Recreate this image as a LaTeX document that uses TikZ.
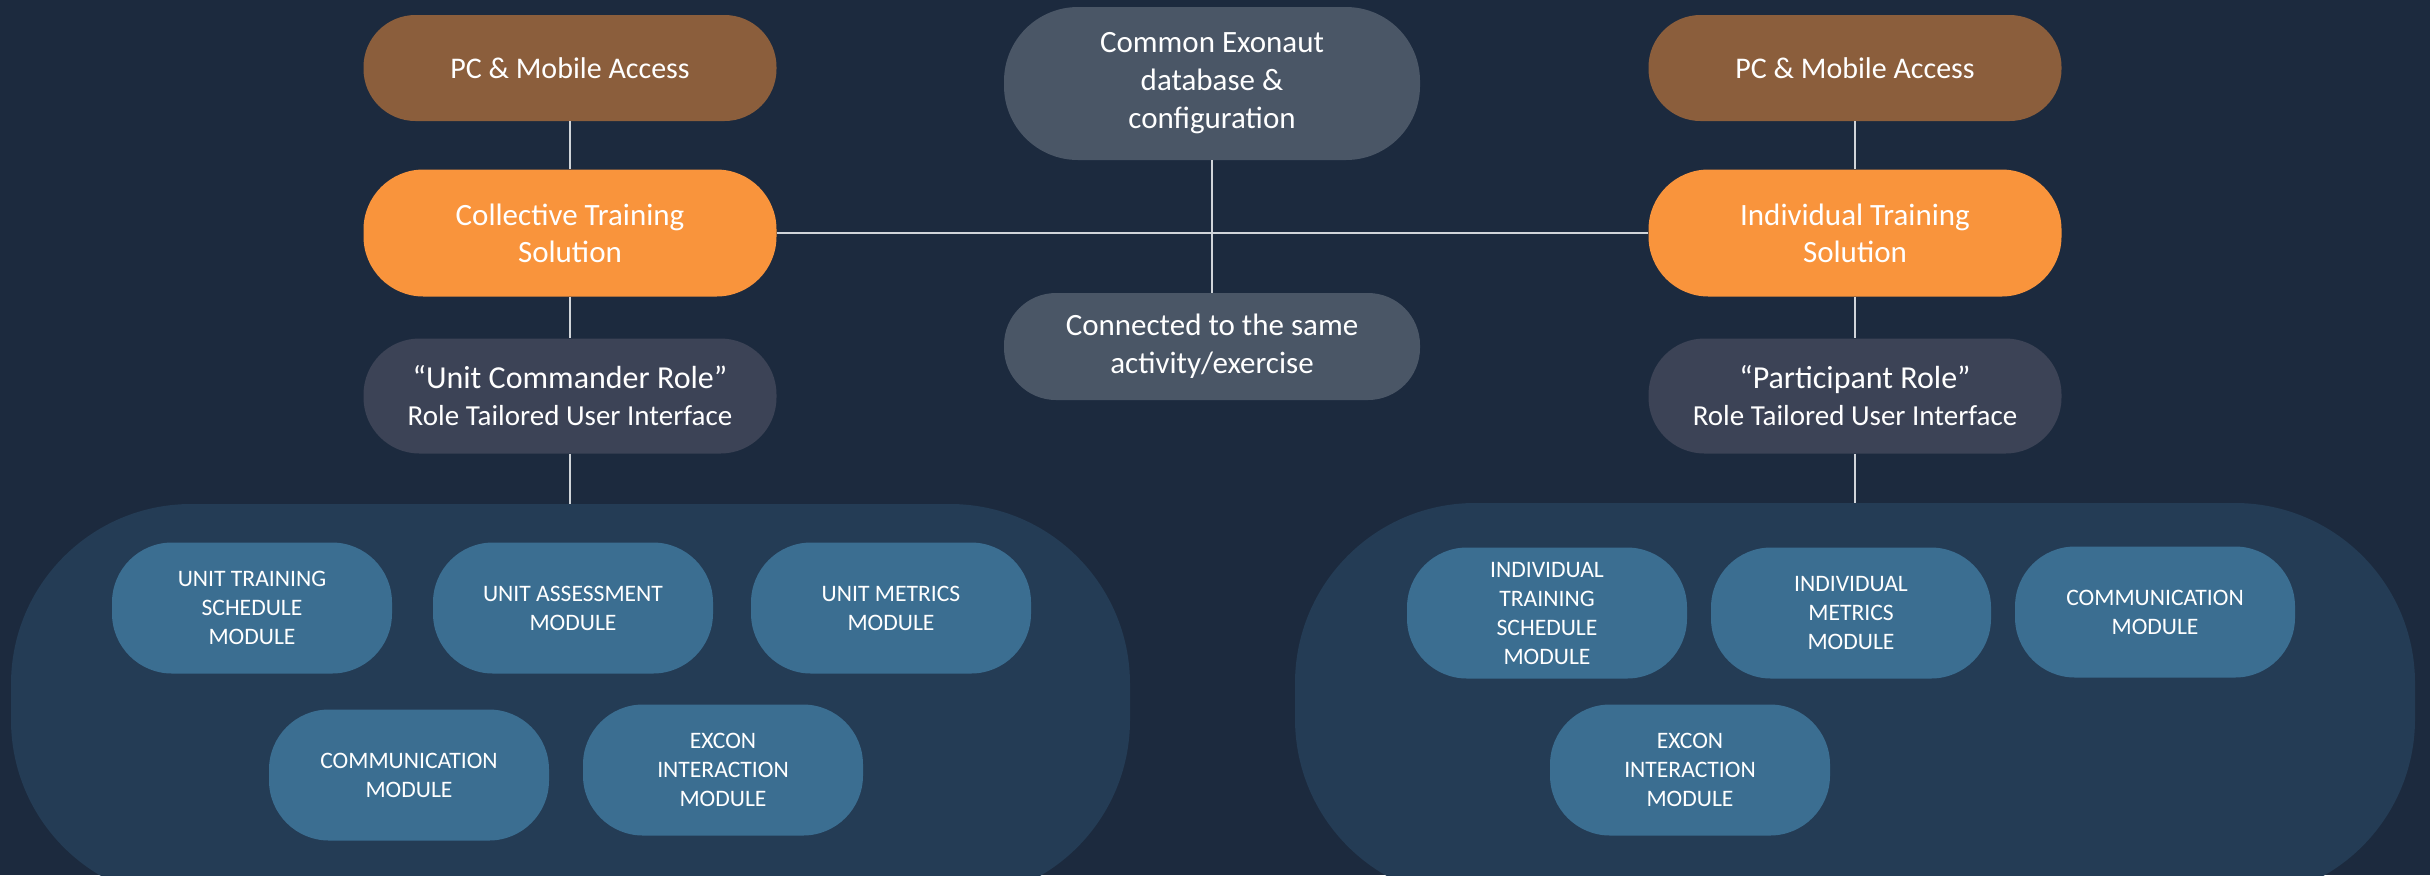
\documentclass[tikz,border=0pt]{standalone}
\usepackage{fontspec}
\setmainfont{Carlito}
\definecolor{bgc}{HTML}{1C2A3E}
\definecolor{brownc}{HTML}{8B5E3C}
\definecolor{orangec}{HTML}{F9943C}
\definecolor{rolec}{HTML}{3C4356}
\definecolor{centerc}{HTML}{4A5666}
\definecolor{contc}{HTML}{243C55}
\definecolor{modc}{HTML}{3B6E91}
\definecolor{linec}{HTML}{D0D4D9}
\tikzset{
  basebox/.style={align=center, text=white, inner sep=0pt, minimum width=206.5pt},
  accessbox/.style={basebox, fill=brownc, minimum height=53pt, rounded corners=26pt, font=\fontsize{15}{18.5}\selectfont},
  solbox/.style={basebox, fill=orangec, minimum height=63.5pt, rounded corners=30pt, font=\fontsize{15.5}{18.5}\selectfont},
  rolebox/.style={basebox, fill=rolec, minimum height=57.5pt, rounded corners=28pt, font=\fontsize{16}{18.5}\selectfont},
  centerbox/.style={basebox, fill=centerc, minimum width=208pt, rounded corners=26pt, font=\fontsize{15.5}{19}\selectfont},
  contbox/.style={fill=contc, rounded corners=90pt, minimum height=198pt, inner sep=0pt},
  modbox/.style={fill=modc, align=center, text=white, inner sep=0pt, minimum width=140pt, minimum height=65.5pt, rounded corners=30pt, font=\fontsize{11.8}{14.5}\selectfont},
  conn/.style={draw=linec, line width=0.8pt}
}
\begin{document}
\begin{tikzpicture}[x=0.5pt, y=-0.5pt]
\fill[bgc] (0,0) rectangle (2430,875);
\useasboundingbox (0,0) rectangle (2430,875);
\clip (0,0) rectangle (2430,875);

% containers
\node[contbox, minimum width=559.5pt] (contL) at (570.5,702) {};
\node[contbox, minimum width=560pt] (contR) at (1855,701) {};

% left column
\node[accessbox] (pcL) at (570,68) {PC \& Mobile Access};
\node[solbox] (colL) at (570,233) {Collective Training\\Solution};
\node[rolebox] (roleL) at (570,396) {“Unit Commander Role”\\{\fontsize{14.5}{18.5}\selectfont Role Tailored User Interface}};

% right column
\node[accessbox] (pcR) at (1855,68) {PC \& Mobile Access};
\node[solbox] (indR) at (1855,233) {Individual Training\\Solution};
\node[rolebox] (roleR) at (1855,396) {“Participant Role”\\{\fontsize{14.5}{18.5}\selectfont Role Tailored User Interface}};

% center
\node[centerbox, minimum height=76.5pt, rounded corners=37pt] (common) at (1212,83.5) {Common Exonaut\\database \&\\configuration};
\node[centerbox, minimum height=53.5pt] (connected) at (1212,346.5) {Connected to the same\\activity/exercise};

% connectors
\draw[conn] (pcL) -- (colL);
\draw[conn] (colL) -- (roleL);
\draw[conn] (roleL.south) -- (roleL.south |- contL.north);
\draw[conn] (pcR) -- (indR);
\draw[conn] (indR) -- (roleR);
\draw[conn] (roleR.south) -- (roleR.south |- contR.north);
\draw[conn] (colL.east) -- (indR.west);
\draw[conn] (common) -- (connected);

% left modules
\node[modbox] (m1) at (252,608) {UNIT TRAINING\\SCHEDULE\\MODULE};
\node[modbox] (m2) at (573,608) {UNIT ASSESSMENT\\MODULE};
\node[modbox] (m3) at (891,608) {UNIT METRICS\\MODULE};
\node[modbox] (m4) at (409,775) {COMMUNICATION\\MODULE};
\node[modbox] (m5) at (723,770) {EXCON\\INTERACTION\\MODULE};

% right modules
\node[modbox] (n1) at (1547,613) {INDIVIDUAL\\TRAINING\\SCHEDULE\\MODULE};
\node[modbox] (n2) at (1851,613) {INDIVIDUAL\\METRICS\\MODULE};
\node[modbox] (n3) at (2155,612) {COMMUNICATION\\MODULE};
\node[modbox] (n4) at (1690,770) {EXCON\\INTERACTION\\MODULE};
\end{tikzpicture}
\end{document}
